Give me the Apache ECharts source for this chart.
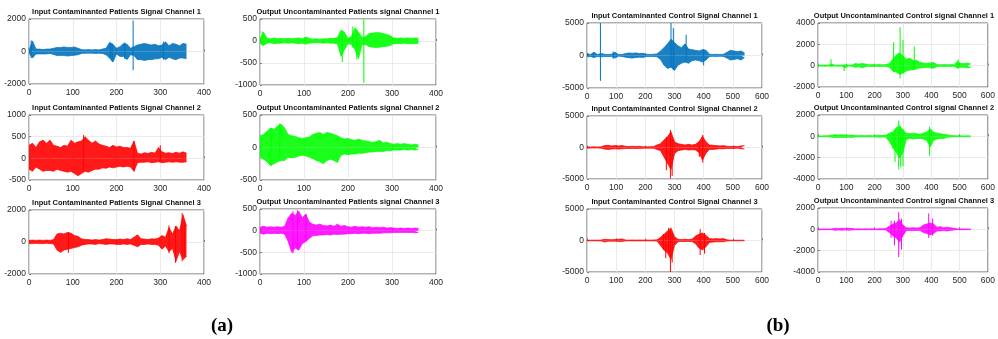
<!DOCTYPE html>
<html>
<head>
<meta charset="utf-8">
<script src="https://cdn.jsdelivr.net/npm/echarts@6/dist/echarts.min.js"></script>
<style>
html,body{margin:0;padding:0;background:#fff;}
#chart{width:998px;height:339px;}
</style>
</head>
<body>
<div id="chart"></div>
<script>
// sample positions (a: patients, b: control)
var xA = [0,8,16,24,32,40,48,56,64,72,80,88,96,104,112,120,128,136,144,152,160,168,176,184,192,200,208,216,224,232,240,248,256,264,272,280,288,296,304,312,320,328,336,344,352,360];
var xB = [0,12,24,36,48,60,72,84,96,108,120,132,144,156,168,180,192,204,216,228,240,252,264,276,288,300,312,324,336,348,360,372,384,396,408,420,432,444,456,468,480,492,504,516,528,540];

// envelopes (upper / lower), plus isolated spikes [x, low, high]
var a11Hi = [100,650,150,150,120,150,150,200,250,250,280,250,250,280,200,120,100,120,100,120,100,150,200,550,450,200,300,500,450,200,300,400,450,500,450,400,450,350,400,600,350,500,450,350,500,450];
var a11Lo = [-100,-400,-150,-150,-150,-150,-120,-180,-250,-250,-250,-280,-250,-230,-200,-120,-100,-100,-100,-120,-100,-120,-200,-400,-650,-150,-300,-300,-500,-200,-250,-500,-500,-550,-500,-500,-450,-450,-350,-500,-350,-450,-500,-400,-400,-450];
var a11Spk = [[5,-400,680],[186,-400,550],[190,-620,450],[219,-450,550],[238,-1150,1900],[307,-500,600]];

var a12Hi = [50,200,60,50,70,50,60,50,60,50,60,70,50,90,60,40,50,40,50,50,60,60,80,250,200,60,100,300,200,80,100,170,180,190,190,170,150,120,70,60,70,60,70,60,70,60];
var a12Lo = [-50,-100,-50,-40,-60,-50,-50,-40,-50,-40,-50,-60,-50,-70,-50,-40,-40,-40,-50,-40,-50,-50,-60,-350,-200,-60,-80,-200,-400,-80,-80,-130,-140,-150,-140,-130,-120,-100,-60,-60,-60,-50,-60,-60,-60,-50];
var a12Spk = [[5,-100,220],[187,-480,220],[211,-150,330],[220,-420,250],[236,-950,500]];

var a21Hi = [300,350,250,380,420,350,420,300,280,250,300,280,420,350,380,400,500,420,350,400,330,300,280,250,300,260,280,250,250,230,400,120,100,130,110,140,120,250,150,120,130,110,140,120,150,120];
var a21Lo = [-250,-300,-200,-250,-300,-280,-280,-300,-250,-280,-300,-320,-300,-350,-400,-350,-300,-320,-280,-250,-250,-220,-230,-200,-220,-200,-180,-200,-180,-200,-300,-100,-90,-90,-80,-100,-90,-80,-100,-90,-80,-90,-80,-90,-90,-80];
var a21Spk = [[125,-300,540],[240,-300,400],[300,-80,300]];

var a22Hi = [180,200,250,300,280,330,360,300,200,180,170,150,140,150,160,200,220,230,200,230,220,200,180,150,130,140,120,110,130,110,100,90,80,90,110,70,80,60,50,60,50,60,50,40,50,40];
var a22Lo = [-150,-180,-220,-280,-250,-220,-200,-200,-150,-160,-150,-130,-120,-130,-150,-170,-200,-220,-250,-200,-180,-200,-230,-120,-100,-110,-100,-100,-90,-90,-80,-70,-70,-60,-60,-60,-50,-50,-40,-40,-40,-30,-40,-30,-40,-30];
var a22Spk = [[25,-280,300],[45,-200,370]];

var a31Hi = [100,120,100,120,100,120,100,150,500,550,500,600,550,400,350,200,150,150,120,150,120,150,200,180,150,150,180,150,200,150,300,450,200,180,150,200,180,250,400,300,900,500,1000,700,1700,1000];
var a31Lo = [-100,-100,-80,-100,-100,-80,-100,-120,-500,-650,-500,-450,-400,-350,-300,-200,-150,-120,-120,-150,-100,-120,-150,-120,-120,-150,-150,-120,-150,-120,-200,-300,-150,-150,-120,-150,-150,-200,-450,-250,-600,-400,-1200,-600,-1100,-900];
var a31Spk = [[90,-680,620],[320,-700,1030],[335,-1300,1000],[350,-1200,1800],[355,-900,1300]];

var a32Hi = [80,100,80,90,80,90,80,100,300,400,350,450,300,380,200,150,130,150,120,110,130,100,150,100,120,90,80,100,80,90,80,90,70,80,70,80,60,70,60,50,60,50,60,50,60,50];
var a32Lo = [-60,-80,-60,-70,-60,-70,-60,-80,-250,-500,-400,-450,-300,-250,-180,-120,-110,-100,-100,-90,-100,-80,-90,-80,-80,-70,-70,-60,-70,-60,-60,-70,-60,-60,-60,-50,-50,-50,-40,-40,-40,-40,-40,-40,-50,-40];
var a32Spk = [[75,-520,450],[85,-400,470],[105,-250,380]];

var b11Hi = [300,150,500,150,300,200,150,200,500,150,150,300,400,350,400,300,350,200,150,200,250,700,1200,1800,2500,2000,1500,1200,1800,1000,900,800,700,900,800,200,150,200,150,200,500,800,700,600,700,400];
var b11Lo = [-200,-150,-300,-150,-200,-150,-150,-150,-400,-100,-150,-250,-350,-400,-300,-250,-300,-150,-150,-150,-200,-600,-1500,-2000,-1800,-2300,-1500,-1200,-1000,-1200,-800,-700,-800,-1000,-700,-150,-120,-150,-120,-150,-400,-700,-600,-500,-700,-300];
var b11Spk = [[22,-300,500],[46,-3900,5000],[90,-500,600],[288,-1800,5000],[296,-2200,4200],[340,-1000,3200],[400,-1500,1000]];

var b12Hi = [60,50,60,50,150,50,60,50,80,50,60,200,150,200,150,80,100,80,100,80,100,200,600,1000,1200,900,600,700,500,500,300,250,200,250,300,100,80,100,80,100,80,400,200,200,250,150];
var b12Lo = [-50,-40,-50,-40,-60,-40,-50,-40,-200,-40,-50,-150,-100,-200,-100,-60,-80,-60,-80,-60,-80,-150,-500,-600,-800,-700,-500,-400,-400,-300,-200,-200,-150,-200,-250,-80,-60,-80,-60,-80,-60,-200,-150,-150,-200,-150];
var b12Spk = [[46,-50,600],[92,-500,50],[267,-600,2200],[290,-1200,3600],[300,-700,2400],[340,-300,1800],[495,-300,600]];

var b21Hi = [100,80,100,80,100,300,350,250,300,250,300,200,150,200,150,200,100,100,120,150,400,600,1200,1700,2500,900,600,500,400,500,400,500,900,1800,900,400,350,300,250,300,200,150,200,150,250,300];
var b21Lo = [-100,-80,-80,-80,-100,-250,-300,-250,-200,-250,-200,-150,-150,-150,-150,-150,-100,-100,-100,-120,-300,-500,-1500,-2500,-3500,-1000,-500,-400,-300,-400,-350,-400,-800,-2000,-900,-300,-300,-250,-200,-200,-150,-150,-150,-100,-200,-250];
var b21Spk = [[272,-3600,1700],[286,-4900,2800],[292,-4500,1500],[385,-1500,1000],[397,-2400,2000]];

var b22Hi = [50,40,50,60,100,150,120,150,120,100,120,80,60,80,60,80,60,80,100,80,100,300,400,800,1000,600,300,250,300,250,200,300,400,700,400,300,250,200,150,80,60,50,50,40,50,40];
var b22Lo = [-50,-40,-40,-50,-80,-120,-100,-100,-100,-80,-100,-60,-50,-60,-50,-60,-50,-60,-80,-60,-80,-500,-1000,-1500,-2000,-1500,-300,-200,-250,-200,-200,-250,-400,-1000,-400,-250,-200,-200,-100,-60,-50,-40,-40,-40,-40,-40];
var b22Spk = [[265,-1200,400],[272,-2400,600],[285,-3100,1500],[292,-2900,900],[300,-2800,700],[394,-1800,900]];

var b31Hi = [60,50,60,50,60,200,150,120,150,200,250,80,60,80,60,80,60,80,60,80,100,500,1000,1500,2000,600,200,150,200,150,200,700,1000,1200,800,300,250,300,250,300,100,50,50,40,50,40];
var b31Lo = [-50,-40,-50,-40,-50,-250,-100,-100,-100,-150,-150,-60,-50,-60,-50,-60,-50,-60,-50,-60,-80,-800,-1500,-2000,-3000,-800,-200,-150,-150,-150,-150,-500,-1200,-1500,-1000,-300,-250,-200,-200,-200,-80,-40,-40,-40,-40,-40];
var b31Spk = [[262,-1500,1000],[270,-2800,800],[280,-1800,2000],[286,-5000,1500],[292,-3500,1200],[388,-2300,1800],[403,-2100,1200]];

var b32Hi = [40,30,40,30,40,100,80,100,80,100,80,40,50,40,50,40,50,40,50,60,80,300,500,600,900,400,150,120,150,120,150,400,500,600,500,200,250,150,200,150,100,40,40,30,40,30];
var b32Lo = [-40,-30,-30,-30,-30,-80,-60,-80,-60,-80,-60,-30,-40,-30,-40,-30,-40,-30,-40,-40,-60,-300,-600,-800,-1200,-600,-100,-100,-120,-100,-100,-300,-400,-500,-400,-150,-150,-120,-150,-100,-60,-30,-30,-30,-30,-30];
var b32Spk = [[258,-800,800],[270,-1500,800],[285,-2600,1600],[295,-1900,1000],[391,-800,1500],[405,-600,1000]];

var BLUE = '#0072BD', GREEN = '#00FF00', RED = '#FF0000', MAG = '#FF00FF';

var plots = [
  {t:'Input Contaminanted Patients Signal Channel 1', l:29, tp:19, w:175, h:65, xMax:400, yMin:-2000, yMax:2000, yStep:2000, c:BLUE, x:xA, hi:a11Hi, lo:a11Lo, spk:a11Spk},
  {t:'Output Uncontaminanted Patients signal Channel 1', l:260, tp:19, w:176, h:66, xMax:400, yMin:-1000, yMax:500, yStep:500, c:GREEN, x:xA, hi:a12Hi, lo:a12Lo, spk:a12Spk},
  {t:'Input Contaminanted Patients Signal Channel 2', l:29, tp:115, w:175, h:65, xMax:400, yMin:-500, yMax:1000, yStep:500, c:RED, x:xA, hi:a21Hi, lo:a21Lo, spk:a21Spk},
  {t:'Output Uncontaminanted Patients signal Channel 2', l:260, tp:115, w:176, h:65, xMax:400, yMin:-500, yMax:500, yStep:500, c:GREEN, x:xA, hi:a22Hi, lo:a22Lo, spk:a22Spk},
  {t:'Input Contaminanted Patients Signal Channel 3', l:29, tp:210, w:175, h:64, xMax:400, yMin:-2000, yMax:2000, yStep:2000, c:RED, x:xA, hi:a31Hi, lo:a31Lo, spk:a31Spk},
  {t:'Output Uncontaminanted Patients signal Channel 3', l:260, tp:209, w:176, h:65, xMax:400, yMin:-1000, yMax:500, yStep:500, c:MAG, x:xA, hi:a32Hi, lo:a32Lo, spk:a32Spk},
  {t:'Input Contaminanted Control Signal Channel 1', l:587, tp:23, w:175, h:65, xMax:600, yMin:-5000, yMax:5000, yStep:5000, c:BLUE, x:xB, hi:b11Hi, lo:b11Lo, spk:b11Spk},
  {t:'Output Uncontaminanted Control signal Channel 1', l:818, tp:23, w:172, h:64, xMax:600, yMin:-2000, yMax:4000, yStep:2000, c:GREEN, x:xB, hi:b12Hi, lo:b12Lo, spk:b12Spk},
  {t:'Input Contaminanted Control Signal Channel 2', l:587, tp:116, w:175, h:63, xMax:600, yMin:-5000, yMax:5000, yStep:5000, c:RED, x:xB, hi:b21Hi, lo:b21Lo, spk:b21Spk},
  {t:'Output Uncontaminanted Control signal Channel 2', l:818, tp:115, w:172, h:64, xMax:600, yMin:-4000, yMax:2000, yStep:2000, c:GREEN, x:xB, hi:b22Hi, lo:b22Lo, spk:b22Spk},
  {t:'Input Contaminanted Control Signal Channel 3', l:587, tp:209, w:175, h:63, xMax:600, yMin:-5000, yMax:5000, yStep:5000, c:RED, x:xB, hi:b31Hi, lo:b31Lo, spk:b31Spk},
  {t:'Output Uncontaminanted Control signal Channel 3', l:818, tp:208, w:172, h:64, xMax:600, yMin:-4000, yMax:2000, yStep:2000, c:MAG, x:xB, hi:b32Hi, lo:b32Lo, spk:b32Spk}
];

var labelFont = '"Liberation Sans", Arial, sans-serif';
var grids = [], xAxes = [], yAxes = [], series = [], graphics = [];

function pairs(xs, ys){
  return ys.map(function(v, i){ return [xs[i], v]; });
}

plots.forEach(function(p, i){
  grids.push({left:p.l, top:p.tp, width:p.w, height:p.h, show:true, borderColor:'#3a3a3a', borderWidth:0.8, backgroundColor:'#fff'});
  xAxes.push({
    type:'value', gridIndex:i, min:0, max:p.xMax, interval:100,
    axisLine:{show:false},
    axisTick:{show:true, inside:true, length:2, lineStyle:{color:'#3a3a3a', width:0.6}},
    axisLabel:{fontSize:8.5, color:'#262626', margin:4, fontFamily:labelFont, formatter:function(v){ return String(v); }},
    splitLine:{show:true, lineStyle:{color:'#e4e4e4', width:0.8}}
  });
  yAxes.push({
    type:'value', gridIndex:i, min:p.yMin, max:p.yMax, interval:p.yStep,
    axisLine:{show:false},
    axisTick:{show:true, inside:true, length:2, lineStyle:{color:'#3a3a3a', width:0.6}},
    axisLabel:{fontSize:8.5, color:'#262626', margin:3, fontFamily:labelFont, formatter:function(v){ return String(v); }},
    splitLine:{show:true, lineStyle:{color:'#e4e4e4', width:0.8}}
  });
  [p.hi, p.lo].forEach(function(arr){
    series.push({
      type:'line', xAxisIndex:i, yAxisIndex:i, data:pairs(p.x, arr),
      symbol:'none', silent:true,
      itemStyle:{color:p.c},
      lineStyle:{color:p.c, width:0.7},
      areaStyle:{color:p.c, opacity:0.9}
    });
  });
  series.push({
    type:'custom', xAxisIndex:i, yAxisIndex:i, data:p.spk, silent:true,
    itemStyle:{color:p.c},
    encode:{x:0, y:[1,2]},
    renderItem:(function(col){
      return function(params, api){
        var x = api.value(0);
        var a = api.coord([x, api.value(1)]);
        var b = api.coord([x, api.value(2)]);
        return {type:'line', shape:{x1:a[0], y1:a[1], x2:b[0], y2:b[1]}, style:{stroke:col, fill:null, lineWidth:1}};
      };
    })(p.c)
  });
  graphics.push({
    type:'text', x:p.l + p.w / 2, y:p.tp - 7, silent:true,
    style:{text:p.t, font:'bold 7.5px ' + labelFont, fill:'#111', align:'center', verticalAlign:'middle', textAlign:'center', textVerticalAlign:'middle'}
  });
});

graphics.push({type:'text', x:222, y:326, style:{text:'(a)', font:'bold 19px "Liberation Serif", "Times New Roman", serif', fill:'#000', align:'center', verticalAlign:'middle', textAlign:'center', textVerticalAlign:'middle'}});
graphics.push({type:'text', x:778, y:326, style:{text:'(b)', font:'bold 19px "Liberation Serif", "Times New Roman", serif', fill:'#000', align:'center', verticalAlign:'middle', textAlign:'center', textVerticalAlign:'middle'}});

var chart = echarts.init(document.getElementById('chart'), null, {renderer:'canvas'});
chart.setOption({
  animation:false,
  backgroundColor:'#fff',
  grid:grids,
  xAxis:xAxes,
  yAxis:yAxes,
  series:series,
  graphic:graphics
});
</script>
</body>
</html>
